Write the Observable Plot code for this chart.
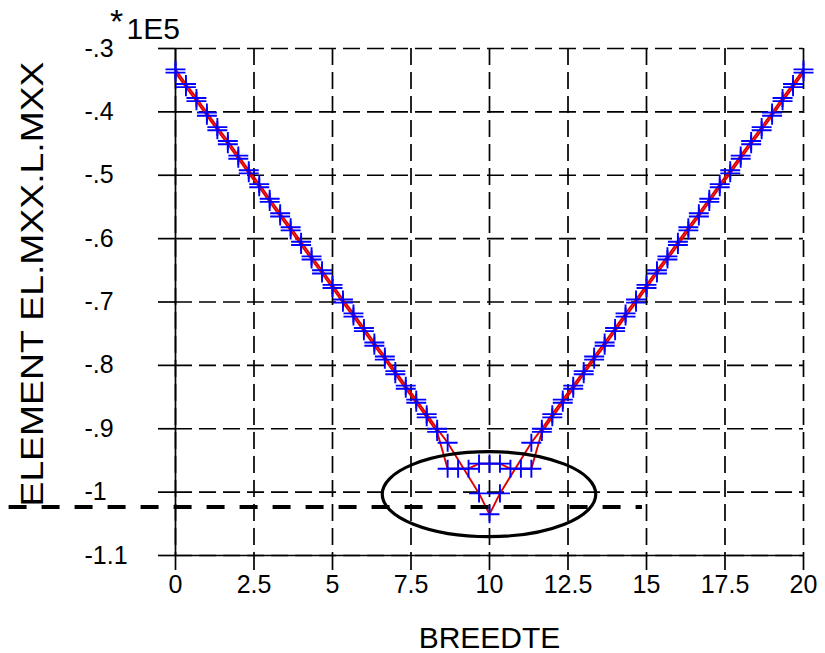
<!DOCTYPE html>
<html><head><meta charset="utf-8">
<script src="https://cdn.jsdelivr.net/npm/d3@7"></script>
<script src="https://cdn.jsdelivr.net/npm/@observablehq/plot@0.6"></script>
<style>body{margin:0;background:#fff} svg{display:block}</style>
</head><body><div id="chart"></div>
<script>
// ---- data ----
const xA = [0,0.333,0.667,1,1.333,1.667,2,2.333,2.667,3,3.333,3.667,4,4.333,4.667,5,5.333,5.667,6,6.333,6.667,7,7.333,7.667,8,8.333,8.667,
  9.667,10,10.333,
  11.333,11.667,12,12.333,12.667,13,13.333,13.667,14,14.333,14.667,15,15.333,15.667,16,16.333,16.667,17,17.333,17.667,18,18.333,18.667,19,19.333,19.667,20];
const yA = [-0.333,-0.356,-0.378,-0.401,-0.424,-0.446,-0.469,-0.492,-0.514,-0.537,-0.560,-0.582,-0.605,-0.628,-0.650,-0.673,-0.696,-0.718,-0.741,-0.764,-0.786,-0.809,-0.832,-0.854,-0.877,-0.900,-0.922,
  -1.002,-1.035,-1.002,
  -0.922,-0.900,-0.877,-0.854,-0.832,-0.809,-0.786,-0.764,-0.741,-0.718,-0.696,-0.673,-0.650,-0.628,-0.605,-0.582,-0.560,-0.537,-0.514,-0.492,-0.469,-0.446,-0.424,-0.401,-0.378,-0.356,-0.333];
const xB = [0,0.333,0.667,1,1.333,1.667,2,2.333,2.667,3,3.333,3.667,4,4.333,4.667,5,5.333,5.667,6,6.333,6.667,7,7.333,7.667,8,8.333,
  8.667,9,9.333,9.667,10,10.333,10.667,11,11.333,
  11.667,12,12.333,12.667,13,13.333,13.667,14,14.333,14.667,15,15.333,15.667,16,16.333,16.667,17,17.333,17.667,18,18.333,18.667,19,19.333,19.667,20];
const yB = [-0.338,-0.361,-0.383,-0.406,-0.429,-0.451,-0.474,-0.497,-0.519,-0.542,-0.565,-0.587,-0.610,-0.633,-0.655,-0.678,-0.701,-0.723,-0.746,-0.769,-0.791,-0.814,-0.837,-0.859,-0.882,-0.905,
  -0.963,-0.963,-0.963,-0.955,-0.955,-0.955,-0.963,-0.963,-0.963,
  -0.905,-0.882,-0.859,-0.837,-0.814,-0.791,-0.769,-0.746,-0.723,-0.701,-0.678,-0.655,-0.633,-0.610,-0.587,-0.565,-0.542,-0.519,-0.497,-0.474,-0.451,-0.429,-0.406,-0.383,-0.361,-0.338];

const xTicks = [0,2.5,5,7.5,10,12.5,15,17.5,20];
const xTickLabels = ["0","2.5","5","7.5","10","12.5","15","17.5","20"];
const yTicks = [-0.3,-0.4,-0.5,-0.6,-0.7,-0.8,-0.9,-1.0,-1.1];
const yTickLabels = ["-.3","-.4","-.5","-.6","-.7","-.8","-.9","-1","-1.1"];

const xLabel = "BREEDTE";
const yLabel = "ELEMENT EL.MXX.L.MXX";
const scaleNote = "1E5";

// annotations (data units)
const ellipseCenter = [10, -1.004];
const ellipseRadii = [3.4, 0.067];
const refLineY = -1.0235;
const refLineX = [-5.3, 14.87];

// ---- build ----
const seriesA = xA.map((x, i) => ({x, y: yA[i]}));
const seriesB = xB.map((x, i) => ({x, y: yB[i]}));

const plusSymbol = {
  draw(context, size) {
    const r = Math.sqrt(size / Math.PI);
    context.moveTo(-r * 1.05, 0); context.lineTo(r * 1.05, 0);
    context.moveTo(0, -r * 0.95); context.lineTo(0, r * 0.95);
  }
};

const gridStyle = {stroke: "black", strokeOpacity: 1, strokeWidth: 1.7, strokeDasharray: "17,7"};
const font = "'Liberation Sans', Arial, Helvetica, sans-serif";

const ellipseMark = (index, scales) => {
  const {x, y} = scales;
  const g = d3.create("svg:g");
  g.append("ellipse")
    .attr("cx", x(ellipseCenter[0]))
    .attr("cy", y(ellipseCenter[1]))
    .attr("rx", Math.abs(x(ellipseCenter[0] + ellipseRadii[0]) - x(ellipseCenter[0])))
    .attr("ry", Math.abs(y(ellipseCenter[1] + ellipseRadii[1]) - y(ellipseCenter[1])))
    .attr("fill", "none").attr("stroke", "black").attr("stroke-width", 3.2);
  return g.node();
};

const chart = Plot.plot({
  width: 825, height: 653,
  marginLeft: 175, marginRight: 22, marginTop: 48, marginBottom: 98,
  style: {fontFamily: font, background: "white", overflow: "visible", color: "black"},
  x: {domain: [0, 20]},
  y: {domain: [-1.1, -0.3]},
  marks: [
    Plot.gridX(xTicks, gridStyle),
    Plot.gridY(yTicks, gridStyle),
    Plot.ruleX([0], {stroke: "black", strokeWidth: 1.7}),
    Plot.ruleY([-1.1], {stroke: "black", strokeWidth: 1.7}),
    Plot.axisX(xTicks, {tickSize: 15, tickPadding: 5, fontSize: 25, strokeWidth: 1.7,
      tickFormat: d => xTickLabels[xTicks.indexOf(d)], label: null}),
    Plot.axisY(yTicks, {tickSize: 17, tickPadding: 74, textAnchor: "start", fontSize: 25, strokeWidth: 1.7,
      tickFormat: d => yTickLabels[yTicks.indexOf(d)], label: null}),
    Plot.line(seriesA, {x: "x", y: "y", stroke: "#e00000", strokeWidth: 1.9}),
    Plot.line(seriesB, {x: "x", y: "y", stroke: "#e00000", strokeWidth: 1.9}),
    Plot.dot(seriesA, {x: "x", y: "y", symbol: plusSymbol, r: 9.5, stroke: "#0000ff", fill: "none", strokeWidth: 1.9}),
    Plot.dot(seriesB, {x: "x", y: "y", symbol: plusSymbol, r: 9.5, stroke: "#0000ff", fill: "none", strokeWidth: 1.9}),
    ellipseMark,
    Plot.ruleY([refLineY], {x1: refLineX[0], x2: refLineX[1], stroke: "black", strokeWidth: 4, strokeDasharray: "18,15"}),
    Plot.text([yLabel], {frameAnchor: "left", dx: -142, dy: -18, rotate: -90, fontSize: 31, textAnchor: "middle", lineAnchor: "middle"}),
    Plot.text([xLabel], {frameAnchor: "bottom", dy: 83, fontSize: 30, textAnchor: "middle", lineAnchor: "middle"}),
    Plot.text([scaleNote], {frameAnchor: "top-left", dx: -49, dy: -19, fontSize: 30, textAnchor: "start", lineAnchor: "middle"}),
    Plot.text(["*"], {frameAnchor: "top-left", dx: -59, dy: -26, fontSize: 34, textAnchor: "middle", lineAnchor: "middle"})
  ]
});

d3.select(chart).selectAll("text").filter(function() { return this.textContent === yLabel; })
  .attr("textLength", 445).attr("lengthAdjust", "spacingAndGlyphs");

document.getElementById("chart").appendChild(chart);
</script>
</body></html>
